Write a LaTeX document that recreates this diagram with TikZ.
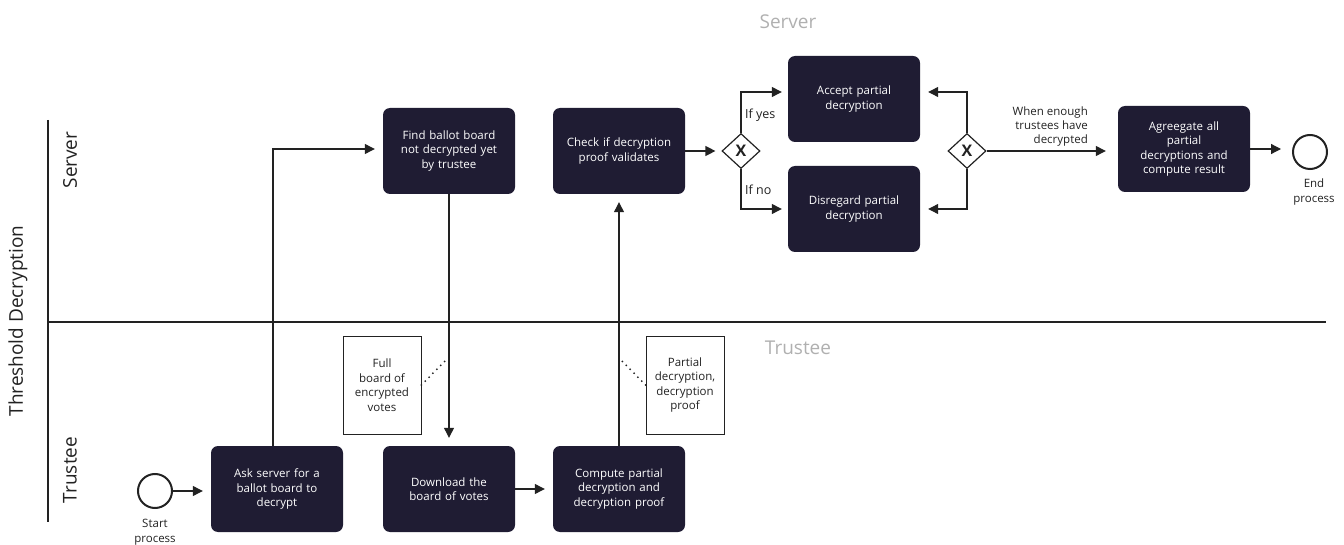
\documentclass[tikz,border=0pt]{standalone}
\usepackage{fontspec}
\setmainfont{Open Sans}
\usetikzlibrary{arrows.meta,shapes.geometric}
\definecolor{navy}{HTML}{1F1C33}
\definecolor{ink}{HTML}{222222}
\definecolor{lanegray}{HTML}{B0B0B0}
\tikzset{
  task/.style={fill=navy, rounded corners=7pt, minimum width=132pt, minimum height=86pt,
    text width=120pt, align=center, text=white, inner sep=0pt,
    font=\fontsize{11.5}{14.5}\selectfont},
  gate/.style={diamond, draw=ink, line width=1.2pt, fill=white, minimum width=38pt,
    minimum height=35pt, inner sep=0pt, font=\fontsize{16}{16}\selectfont\bfseries, text=ink},
  event/.style={circle, draw=ink, line width=2pt, minimum size=34pt, inner sep=0pt},
  dataobj/.style={draw=ink, line width=0.8pt, fill=white, minimum width=78pt, minimum height=98pt,
    inner sep=0pt, align=center, text=ink, font=\fontsize{11.5}{14.5}\selectfont},
  arr/.style={draw=ink, line width=1.2pt, -{Triangle[length=10pt,width=10pt]}, shorten >=8pt},
  assoc/.style={draw=ink, line width=2pt, dash pattern=on 0pt off 5.5pt, line cap=round},
  lbl/.style={text=ink, font=\fontsize{11.5}{14}\selectfont, inner sep=0pt},
  lanetitle/.style={text=ink, font=\fontsize{19}{19}\selectfont, inner sep=0pt},
  graytitle/.style={text=lanegray, font=\fontsize{19}{19}\selectfont, inner sep=0pt},
}
\begin{document}
\begin{tikzpicture}[x=1pt,y=-1pt]
\useasboundingbox (0,0) rectangle (1344,545);
% pool and lanes
\draw[ink, line width=2pt] (48,120) -- (48,522);
\draw[ink, line width=2pt] (48,322) -- (1326,322);
\node[lanetitle, rotate=90] (pool) at (18,321) {Threshold Decryption};
\node[lanetitle, rotate=90] (lserver) at (70,160) {Server};
\node[lanetitle, rotate=90] (ltrustee) at (70,470) {Trustee};
\node[graytitle] (tserver) at (788,22) {Server};
\node[graytitle] (ttrustee) at (798,348) {Trustee};
% events
\node[event] (start) at (155,491) {};
\node[lbl, align=center, font=\fontsize{11.5}{15}\selectfont] (startl) at (155,532) {Start\\process};
\node[event] (end) at (1310,152) {};
\node[lbl, align=center, font=\fontsize{11.5}{15}\selectfont] (endl) at (1314,192) {End\\process};
% tasks
\node[task] (ask) at (277,489) {Ask server for a\\ballot board to\\decrypt};
\node[task] (download) at (449,489) {Download the\\board of votes};
\node[task] (compute) at (619,489) {Compute partial\\decryption and\\decryption proof};
\node[task] (find) at (449,151) {Find ballot board\\not decrypted yet\\by trustee};
\node[task] (check) at (619,151) {Check if decryption\\proof validates};
\node[task] (accept) at (854,99) {Accept partial\\decryption};
\node[task] (disregard) at (854,209) {Disregard partial\\decryption};
\node[task] (agg) at (1184,149) {Agreegate all\\partial\\decryptions and\\compute result};
% gateways
\node[gate] (gw1) at (741,151) {X};
\node[gate] (gw2) at (967,151) {X};
% data objects
\node[dataobj] (fullb) at (382,385) {Full\\board of\\encrypted\\votes};
\node[dataobj] (partd) at (685,385) {Partial\\decryption,\\decryption\\proof};
\coordinate (a1) at (445,361);
\coordinate (a2) at (622,361);
\draw[assoc] (fullb.east) -- (a1);
\draw[assoc] (partd.west) -- (a2);
% flows
\draw[arr] (start.east) -- (start.east -| ask.west);
\draw[arr] ([xshift=-4pt]ask.north) |- ([yshift=2pt]find.west);
\draw[arr] (find.south) -- (download.north);
\draw[arr] (download.east) -- (compute.west);
\draw[arr] (compute.north) -- (check.south);
\draw[arr, shorten >=6pt] (check.east) -- (gw1.west);
\draw[arr, shorten >=6pt] (gw1.north) |- ([yshift=7pt]accept.west);
\draw[arr, shorten >=6pt] (gw1.south) |- (disregard.west);
\draw[arr] (gw2.north) |- ([yshift=7pt]accept.east);
\draw[arr] (gw2.south) |- (disregard.east);
\draw[arr, shorten >=12pt] (gw2.east) -- (gw2.east -| agg.west);
\draw[arr, shorten >=11pt] (agg.east) -- (agg.east -| end.west);
% flow labels
\node[lbl, anchor=west, font=\fontsize{12.5}{14}\selectfont] (ifyes) at (745,115) {If yes};
\node[lbl, anchor=west, font=\fontsize{12.5}{14}\selectfont] (ifno) at (745,190) {If no};
\node[lbl, anchor=south east, align=right] (when) at (1088,146) {When enough\\trustees have\\decrypted};
\end{tikzpicture}
\end{document}
